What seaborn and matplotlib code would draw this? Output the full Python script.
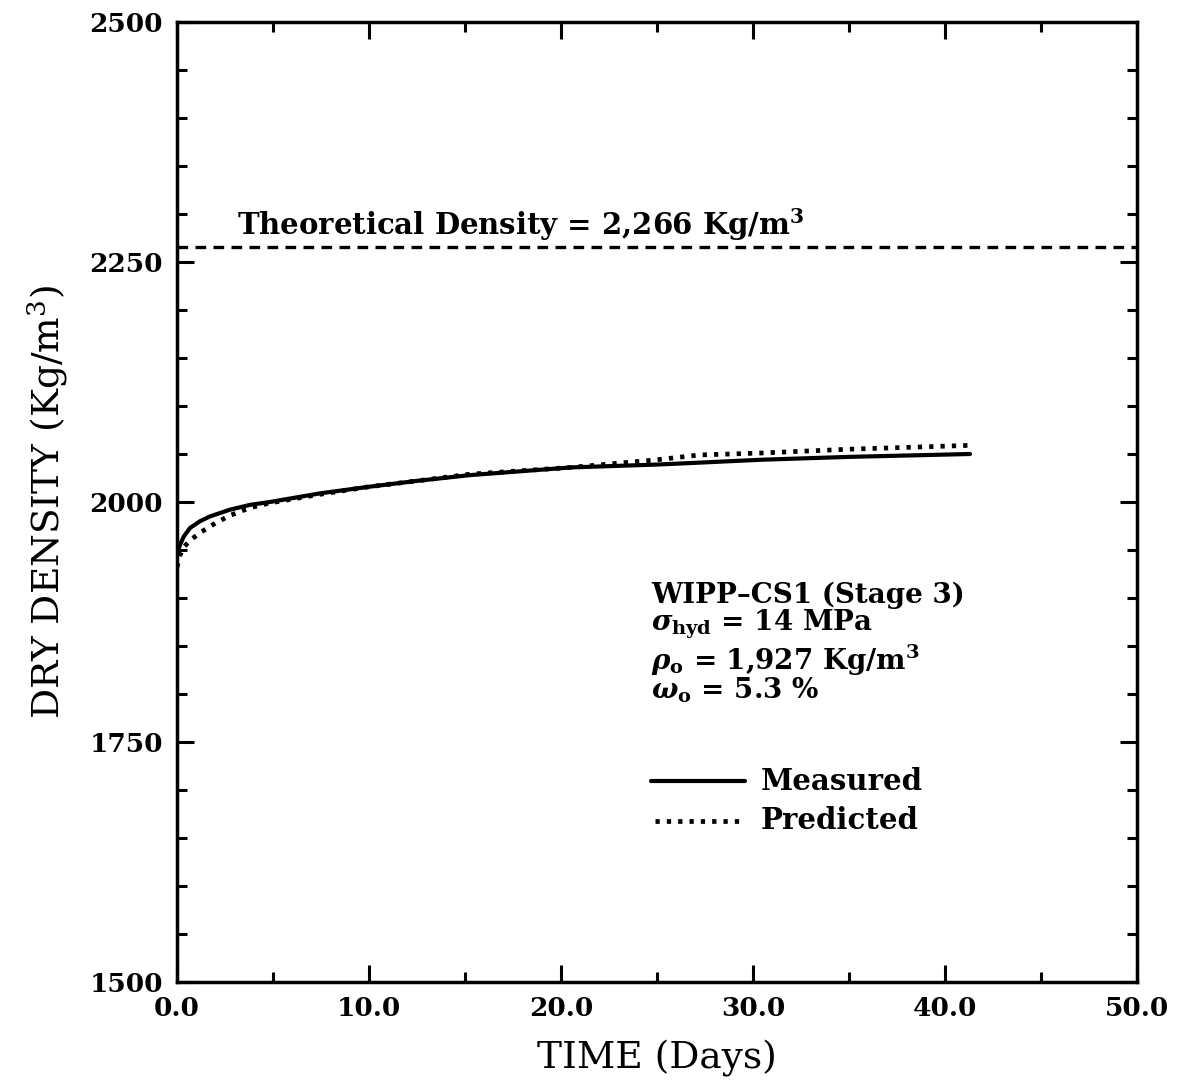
import matplotlib
matplotlib.use("Agg")
import matplotlib.pyplot as plt
import seaborn as sns
import pandas as pd
from matplotlib.ticker import MultipleLocator

# ---- data ----
time_measured = [0.0, 0.15, 0.35, 0.68, 1.2, 1.72, 2.76, 3.8, 4.84, 6.0, 7.45, 10.05, 12.5, 15.26, 20.5, 25.0, 27.2, 30.4, 35.0, 41.3]
dens_measured = [1945, 1955, 1964, 1973, 1980, 1985, 1992, 1997, 2000, 2004, 2009, 2016, 2022, 2028, 2036, 2039, 2041, 2044, 2047, 2050]

time_predicted = [0.0, 0.16, 0.4, 0.68, 1.2, 2.0, 2.76, 3.8, 4.84, 6.0, 7.45, 10.05, 12.5, 15.26, 20.5, 25.0, 27.2, 30.4, 35.0, 41.3]
dens_predicted = [1932, 1945, 1954, 1960, 1968, 1978, 1986, 1994, 1999, 2003, 2008, 2016, 2022, 2029, 2036, 2044, 2049, 2051, 2055, 2059]

theoretical_density = 2266

x_ticks = [0.0, 10.0, 20.0, 30.0, 40.0, 50.0]
y_ticks = [1500, 1750, 2000, 2250, 2500]

# ---- style ----
sns.set_style("ticks")
plt.rcParams["font.family"] = ["DejaVu Serif"]
plt.rcParams["text.color"] = "black"
plt.rcParams["axes.labelcolor"] = "black"
plt.rcParams["xtick.color"] = "black"
plt.rcParams["ytick.color"] = "black"
plt.rcParams["mathtext.fontset"] = "custom"
plt.rcParams["mathtext.rm"] = "DejaVu Serif:bold"
plt.rcParams["mathtext.it"] = "DejaVu Serif:italic:bold"
plt.rcParams["mathtext.bf"] = "DejaVu Serif:bold"

fig = plt.figure(figsize=(11.79, 10.90), dpi=100)
ax = fig.add_axes([177 / 1179, 108 / 1090, 960 / 1179, 960 / 1090])

df_m = pd.DataFrame({"t": time_measured, "rho": dens_measured})
df_p = pd.DataFrame({"t": time_predicted, "rho": dens_predicted})

dot_style = (0, (0.9, 1.5))
sns.lineplot(data=df_m, x="t", y="rho", ax=ax, color="black", lw=3.0,
             linestyle="-", estimator=None, sort=False)
sns.lineplot(data=df_p, x="t", y="rho", ax=ax, color="black", lw=3.4,
             linestyle=dot_style, estimator=None, sort=False)

ax.axhline(theoretical_density, color="black", lw=2.4, linestyle=(0, (3.2, 2.2)))

ax.set_xlim(0, 50)
ax.set_ylim(1500, 2500)
ax.set_xticks(x_ticks)
ax.set_yticks(y_ticks)
ax.set_xticklabels([f"{v:.1f}" for v in x_ticks])
ax.set_yticklabels([str(v) for v in y_ticks])
ax.xaxis.set_minor_locator(MultipleLocator(5))
ax.yaxis.set_minor_locator(MultipleLocator(50))

ax.tick_params(which="both", direction="in", top=True, right=True, width=2.2, color="black")
ax.tick_params(which="major", length=12, labelsize=19, pad=10)
ax.tick_params(which="minor", length=7)
for lab in ax.get_xticklabels() + ax.get_yticklabels():
    lab.set_fontweight("bold")
for sp in ax.spines.values():
    sp.set_linewidth(2.5)
    sp.set_color("black")

ax.set_xlabel("TIME (Days)", fontsize=27, labelpad=14)
ax.set_ylabel(r"DRY DENSITY (Kg/m$^{\mathregular{3}}$)", fontsize=27, labelpad=14)

# annotations
ax.text(3.1, 2270, r"Theoretical Density = 2,266 Kg/m$^{3}$", fontsize=21,
        fontweight="bold", ha="left", va="bottom")

tx = 24.7
fs = 20
ax.text(tx, 1903, "WIPP\u2013CS1 (Stage 3)", fontsize=fs, fontweight="bold", va="center")
ax.text(tx, 1873, r"$\sigma_{\mathbf{hyd}}$ = 14 MPa", fontsize=fs, fontweight="bold", va="center")
ax.text(tx, 1835, r"$\rho_{\mathbf{o}}$ = 1,927 Kg/m$^{3}$", fontsize=fs, fontweight="bold", va="center")
ax.text(tx, 1804, r"$\omega_{\mathbf{o}}$ = 5.3 %", fontsize=fs, fontweight="bold", va="center")

# legend drawn as lines + text
ax.plot([24.7, 29.6], [1709, 1709], color="black", lw=3.0)
ax.plot([24.9, 29.6], [1668, 1668], color="black", lw=3.4, linestyle=dot_style)
ax.text(30.4, 1709, "Measured", fontsize=fs + 1, fontweight="bold", va="center")
ax.text(30.4, 1668, "Predicted", fontsize=fs + 1, fontweight="bold", va="center")

fig.savefig("out.png", dpi=100)
